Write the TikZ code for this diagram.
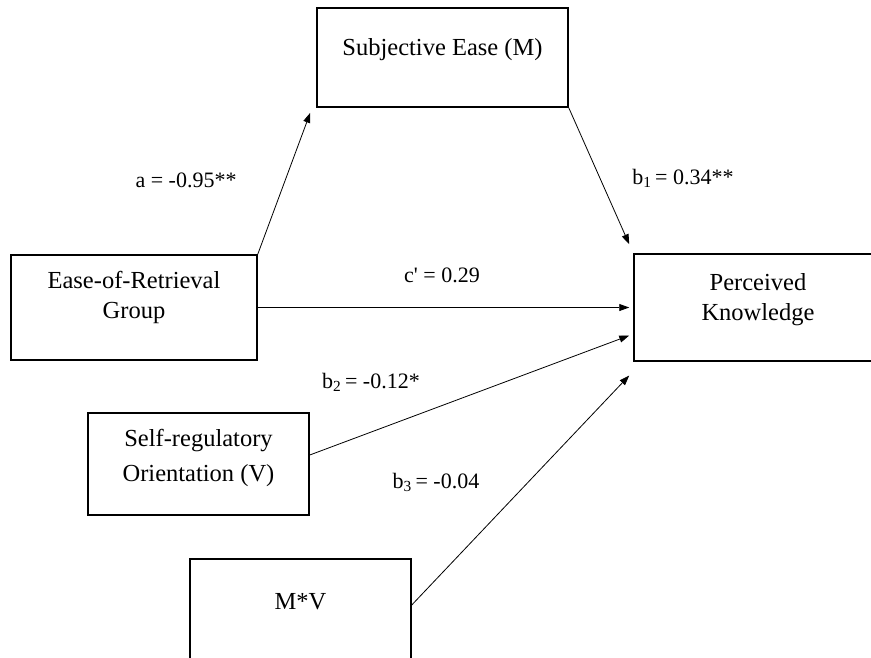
\documentclass[tikz,border=0pt]{standalone}
\usepackage{fontspec}
\setmainfont{Liberation Serif}
\usepackage{tikz}
\usetikzlibrary{arrows.meta}

\begin{document}
\begin{tikzpicture}[x=1pt,y=-1pt,
	box/.style={draw,line width=1.5pt,rectangle,inner sep=0pt},
	txt/.style={align=center,inner sep=0pt,font=\fontsize{24.5}{30}\selectfont},
	lab/.style={inner sep=0pt,font=\fontsize{22}{26}\selectfont},
	arr/.style={draw,line width=0.8pt,-{Triangle[length=10pt,width=7pt]}}]
			\clip (0,0) rectangle (871,657);
			% Draw boxes
			\node[box,minimum width=251,minimum height=99] (subj) at (442.5,57.5) {};
			\node[box,minimum width=246,minimum height=105] (retr) at (134,307.5) {};
			\node[box,minimum width=248,minimum height=107] (perc) at (758,307.5) {};
			\node[box,minimum width=221,minimum height=102] (selfreg) at (198.5,464) {};
			\node[box,minimum width=221,minimum height=122] (mv) at (300.5,620) {};
			\node[txt] (subjtext) at (442.5,50) {Subjective Ease (M)};
			\node[txt] (retrtext) at (134,297) {Ease-of-Retrieval\\Group};
			\node[txt] (perctext) at (758,300) {Perceived\\Knowledge};
			\node[txt,font=\fontsize{24.5}{35}\selectfont] (selfregtext) at (198.5,457.5) {Self-regulatory\\Orientation (V)};
			\node[txt] (mvtext) at (300.5,602) {M*V};
			% Draw paths
			\draw[arr] (retr.north east) -- ([shift={(-6,5)}]subj.south west);
			\draw[arr] (subj.south east) -- ([shift={(-4,-9)}]perc.north west);
			\draw[arr] (retr.east) -- ([xshift=-4pt]perc.west);
			\draw[arr] ([yshift=9pt]selfreg.east) -- ([shift={(-4,28)}]perc.west);
			\draw[arr] ([yshift=15pt]mv.east) -- ([shift={(-4,68)}]perc.west);
			% Coefficients
			\node[lab] (la) at (186,180) {a = -0.95**};
			\node[lab] (lb1) at (683,178) {b\textsubscript{1}\,= 0.34**};
			\node[lab] (lc) at (442,275) {c\textquotesingle{} = 0.29};
			\node[lab] (lb2) at (371,382) {b\textsubscript{2}\,= -0.12*};
			\node[lab] (lb3) at (436,482) {b\textsubscript{3}\,= -0.04};
		\end{tikzpicture}
\end{document}
